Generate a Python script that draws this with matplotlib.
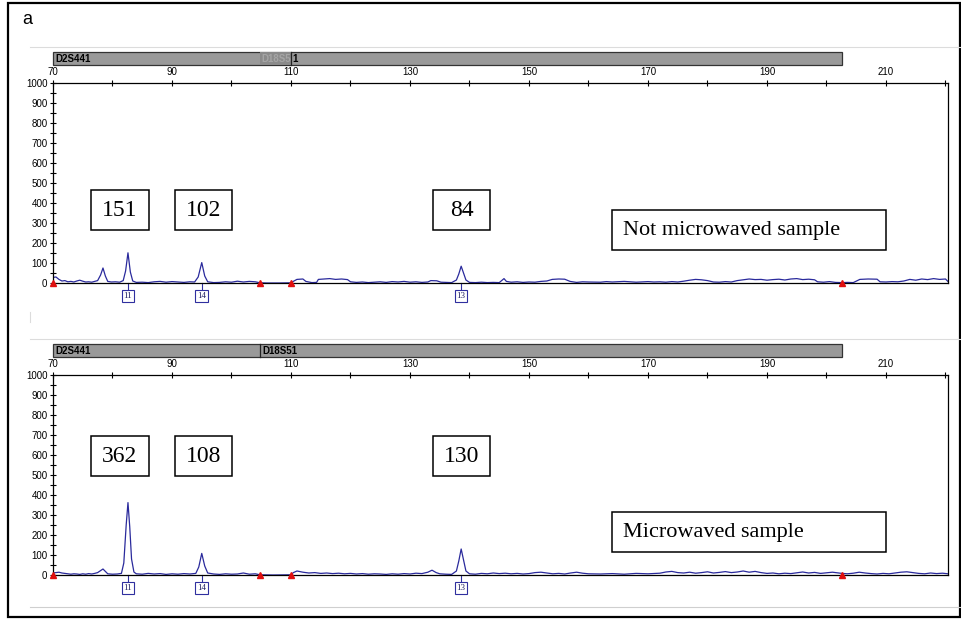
import matplotlib
matplotlib.use('Agg')
import matplotlib.pyplot as plt
from matplotlib.patches import Rectangle
from matplotlib.ticker import MultipleLocator
import numpy as np

# ---- data ----
loci = ['D2S441', 'D18S51']
locus_start = [70, 104.8]
locus_end = [104.8, 202.6]
marker_bp = [70, 104.8, 110, 202.6]

allele_names = ['11', '14', '13']
allele_bp = [82.6, 95.0, 138.6]

heights_top = [151, 102, 84]
heights_bottom = [362, 108, 130]
sample_names = ['Not microwaved sample', 'Microwaved sample']

top_bp = [70, 70.5, 71, 71.5, 72, 72.5, 73, 73.5, 74, 74.5, 75, 75.5, 76, 76.5, 77, 77.5,
          78, 78.4, 78.8, 79.2, 79.8, 80.5, 81.2, 81.8, 82.2, 82.6, 83.0, 83.4, 84, 85, 86,
          87, 88, 89, 90, 91, 92, 93, 93.8, 94.4, 95.0, 95.5, 96, 97, 98, 99, 100, 101, 102,
          103, 104, 104.8, 106, 108, 110, 110.5, 111, 112, 112.5, 113.5, 114.3, 114.6, 115.5,
          116.5, 117.5, 118.5, 119.5, 120, 121, 122, 123, 124, 125, 126, 127, 128, 129, 130,
          131, 132, 133, 133.5, 134.5, 135.2, 136, 137, 137.8, 138.2, 138.6, 139.0, 139.4,
          140, 141, 142, 143, 144, 145, 145.8, 146.2, 147, 148, 149, 150, 151, 152, 153,
          153.9, 155, 156, 156.9, 158, 159, 160, 162, 163, 164, 166, 167, 168, 170, 171, 172,
          173, 174, 175, 176, 177, 178, 179, 180, 181, 182, 183, 184, 185, 186, 187, 188, 189,
          190, 191, 192, 193, 194, 195, 196, 197, 198, 198.5, 199.5, 200.5, 201.5, 202.6,
          203.5, 204.5, 205.6, 207, 208.5, 209, 210, 211, 212, 213, 214, 215, 216, 217, 218,
          219, 220, 220.4]
top_rfu = [28, 30, 18, 10, 12, 6, 8, 5, 10, 14, 9, 5, 6, 4, 8, 12,
           40, 75, 35, 8, 5, 6, 4, 12, 60, 151, 55, 10, 3, 4, 2,
           6, 8, 4, 7, 5, 3, 6, 5, 30, 102, 35, 6, 2, 3, 6, 4, 9, 5,
           8, 6, 1, 0, 0, 1, 10, 18, 20, 8, 2, 3, 18, 20,
           22, 18, 20, 17, 6, 3, 5, 2, 4, 6, 3, 7, 5, 8, 4,
           6, 3, 5, 12, 11, 4, 3, 2, 15, 45, 84, 50, 15,
           3, 2, 4, 2, 3, 2, 22, 8, 4, 6, 3, 5, 4, 8, 10,
           18, 20, 19, 8, 3, 6, 5, 4, 7, 5, 8, 6, 4, 7, 5, 6,
           4, 7, 5, 9, 14, 18, 16, 12, 5, 4, 7, 5, 12, 16, 20, 17, 18,
           14, 17, 19, 15, 20, 22, 17, 19, 16, 6, 4, 7, 3, 2,
           3, 2, 18, 20, 19, 6, 5, 7, 6, 10, 18, 14, 20, 17, 22,
           18, 20, 8]

bottom_bp = [70, 70.5, 71, 71.5, 72, 72.5, 73, 73.5, 74, 74.5, 75, 75.5, 76, 76.5, 77, 77.5,
             78, 78.4, 78.8, 79.2, 80, 80.8, 81.5, 81.9, 82.3, 82.6, 82.9, 83.2, 83.6, 84, 85,
             86, 87, 88, 89, 90, 91, 92, 93, 94, 94.5, 95.0, 95.5, 96, 97, 98, 99, 100, 101,
             102, 103, 104, 104.8, 107, 110, 110.4, 111, 112, 113, 114, 115, 116, 117, 118,
             119, 120, 121, 122, 123, 124, 125, 126, 127, 128, 129, 130, 131, 132, 133, 133.7,
             134.4, 135, 136, 137, 137.8, 138.2, 138.6, 139.0, 139.4, 140, 141, 142, 143, 144,
             145, 146, 147, 148, 149, 150, 151, 152, 153, 154, 155, 156, 157, 158, 159, 160,
             162, 164, 166, 168, 170, 172, 173, 174, 175, 176, 177, 178, 179, 180, 181, 182,
             183, 184, 185, 186, 187, 188, 189, 190, 191, 192, 193, 194, 195, 196, 197, 198,
             199, 200, 201, 202, 202.6, 203.5, 204.5, 205.5, 206.5, 207.5, 208.5, 209.5, 210.5,
             211.5, 212.5, 213.5, 214.5, 215.5, 216.5, 217.5, 218.5, 219.5, 220.4]
bottom_rfu = [10, 12, 14, 10, 8, 6, 4, 6, 5, 3, 6, 4, 7, 5, 8, 12,
              22, 30, 18, 6, 4, 5, 8, 60, 250, 362, 240, 80, 15, 6, 4,
              8, 5, 7, 3, 6, 4, 7, 5, 8, 40, 108, 45, 10, 5, 3, 6, 4, 5,
              10, 4, 6, 1, 0, 1, 12, 20, 14, 10, 12, 8, 10, 7, 9,
              6, 8, 5, 7, 4, 6, 5, 3, 6, 4, 7, 5, 9, 7, 14, 24,
              12, 6, 4, 3, 20, 70, 130, 75, 20, 6, 4, 8, 6, 10,
              7, 9, 6, 8, 5, 7, 12, 14, 10, 6, 8, 5, 10, 14, 9, 6,
              5, 7, 4, 8, 6, 9, 15, 18, 12, 10, 14, 9, 12, 16, 10, 13,
              17, 12, 15, 20, 14, 18, 12, 8, 10, 6, 9, 7, 11, 15, 10, 13,
              8, 11, 14, 10, 8, 6, 9, 14, 10, 7, 5, 8, 6,
              10, 14, 16, 12, 8, 6, 10, 7, 9, 6]

W, H = 962, 620
trace_col = '#2a2a9c'
box_col = '#2f2f9f'
bar_col = '#999999'


def fx(x):
    return x / W


def fy(y):
    return 1 - y / H


def fig_rect(fig, x0, y0, x1, y1, **kw):
    fig.add_artist(Rectangle((fx(x0), fy(y1)), (x1 - x0) / W, (y1 - y0) / H,
                             transform=fig.transFigure, **kw))


def fig_line(fig, xs, ys, **kw):
    fig.add_artist(plt.Line2D([fx(v) for v in xs], [fy(v) for v in ys],
                              transform=fig.transFigure, **kw))


def draw_panel(fig, top_px, bp, rfu, faded_locus):
    ax = fig.add_axes([fx(53), fy(top_px + 200), (948 - 53) / W, 200 / H])
    ax.plot(bp, rfu, color=trace_col, lw=0.9)
    ax.plot(marker_bp, [0] * len(marker_bp), ls='none', marker='^', ms=4,
            color='#e01010', clip_on=False, zorder=5)
    ax.set_xlim(70, 70 + (948 - 53) / 5.95)
    ax.set_ylim(0, 1000)

    ax.xaxis.tick_top()
    ax.set_xticks(np.arange(70, 221, 20))
    ax.xaxis.set_minor_locator(MultipleLocator(10))
    ax.yaxis.set_major_locator(MultipleLocator(100))
    ax.yaxis.set_minor_locator(MultipleLocator(50))
    ax.tick_params(which='both', direction='inout', length=5, width=0.8,
                   labelsize=7, pad=1.5, right=False, bottom=False)
    for lab in ax.get_xticklabels() + ax.get_yticklabels():
        lab.set_family('Liberation Sans')
    for s in ax.spines.values():
        s.set_linewidth(0.9)

    # locus bar above the axis
    tr = ax.get_xaxis_transform()
    ax.add_patch(Rectangle((locus_start[0], 1.09), locus_end[-1] - locus_start[0], 0.065,
                           transform=tr, fc=bar_col, ec='#333333', lw=0.9, clip_on=False))
    if faded_locus:
        ax.add_patch(Rectangle((locus_start[1], 1.09), 110 - locus_start[1], 0.065,
                               transform=tr, fc='#8a8a8a', ec='none', clip_on=False))
        ax.plot([110, 110], [1.09, 1.155], transform=tr, color='#222222', lw=0.9, clip_on=False)
        ax.text(locus_start[0] + 0.4, 1.122, loci[0], transform=tr, fontsize=7, weight='bold',
                family='Liberation Sans', va='center')
        ax.text(locus_start[1] + 0.3, 1.122, 'D18S5', transform=tr, fontsize=7, weight='bold',
                family='Liberation Sans', va='center', color='#a5a5a5')
        ax.text(110.3, 1.122, '1', transform=tr, fontsize=7, weight='bold',
                family='Liberation Sans', va='center')
    else:
        ax.plot([locus_start[1]] * 2, [1.09, 1.155], transform=tr, color='#222222', lw=0.9,
                clip_on=False)
        for name, st in zip(loci, locus_start):
            ax.text(st + 0.4, 1.122, name, transform=tr, fontsize=7, weight='bold',
                    family='Liberation Sans', va='center')

    # allele call boxes under the baseline
    for name, b in zip(allele_names, allele_bp):
        ax.plot([b, b], [0, -0.035], transform=tr, color=box_col, lw=0.8, clip_on=False)
        ax.text(b, -0.066, name, transform=tr, ha='center', va='center', fontsize=6.5,
                family='Liberation Serif', color='#222266',
                bbox=dict(boxstyle='square,pad=0.2', fc='white', ec=box_col, lw=0.8))
    return ax


fig = plt.figure(figsize=(W / 100, H / 100), dpi=100)

# outer frame and faint separator lines
fig_rect(fig, 8, 3, 960, 617, fill=False, ec='black', lw=1.6)
fig_line(fig, [30, 960], [47, 47], color='#dcdcdc', lw=0.8)
fig_line(fig, [30, 960], [339, 339], color='#dcdcdc', lw=0.8)
fig_line(fig, [30, 30], [312, 322], color='#dcdcdc', lw=0.8)
fig_line(fig, [30, 960], [607, 607], color='#cfcfcf', lw=0.8)
fig.text(fx(27), fy(20), 'a', fontsize=13, family='Liberation Sans', ha='center', va='center')

draw_panel(fig, 83, top_bp, top_rfu, True)
draw_panel(fig, 375, bottom_bp, bottom_rfu, False)

# peak height boxes
box_x = [(91, 149), (175, 232), (433, 490)]
for top_px, vals in [(190, heights_top), (436, heights_bottom)]:
    for (x0, x1), v in zip(box_x, vals):
        fig_rect(fig, x0, top_px, x1, top_px + 40, fill=True, fc='white', ec='black', lw=1.1)
        fig.text(fx((x0 + x1) / 2), fy(top_px + 21), str(v), ha='center', va='center',
                 fontsize=17, family='Liberation Serif')

# sample description boxes
for (y0, name) in zip([210, 512], sample_names):
    fig_rect(fig, 612, y0, 886, y0 + 40, fill=True, fc='white', ec='black', lw=1.1)
    fig.text(fx(623), fy(y0 + 21), name, ha='left', va='center', fontsize=16,
             family='Liberation Serif')

fig.savefig('out.png', dpi=100)
